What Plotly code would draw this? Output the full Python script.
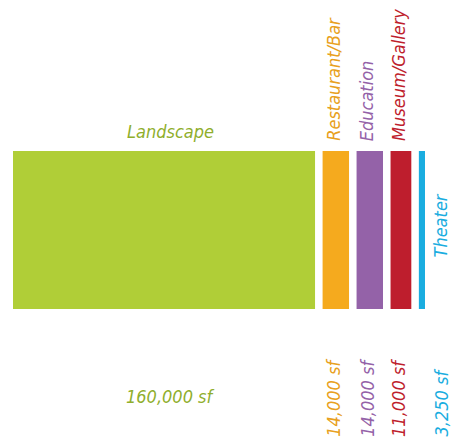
import plotly.graph_objects as go
import numpy as np

categories = ["Landscape", "Restaurant/Bar", "Education", "Museum/Gallery", "Theater"]
values = [160000, 14000, 14000, 11000, 3250]
value_labels = ["160,000 sf", "14,000 sf", "14,000 sf", "11,000 sf", "3,250 sf"]
bar_colors = ["#B0CE37", "#F5AA1E", "#9462A8", "#BE1E2D", "#1AADE0"]
text_colors = ["#8FAE2C", "#E8A020", "#9462A8", "#BE1E2D", "#1AADE0"]

GAP = 4000
vals = np.array(values, dtype=float)
lefts = np.concatenate([[0], np.cumsum(vals[:-1] + GAP)])
centers = lefts + vals / 2
total = lefts[-1] + vals[-1]

FONT = "DejaVu Sans Condensed"
FS = 18

fig = go.Figure()
fig.add_trace(go.Bar(
    x=centers, y=[1] * len(values), width=vals,
    marker=dict(color=bar_colors, line=dict(width=0)),
    hoverinfo="skip", showlegend=False,
))

annotations = []
for i, (cat, lab) in enumerate(zip(categories, value_labels)):
    f = dict(family=FONT, size=FS, color=text_colors[i], style="italic")
    if i == 0:
        annotations.append(dict(x=centers[i], y=1, xref="x", yref="y", text=cat,
                                showarrow=False, font=f, xanchor="center", yanchor="middle",
                                xshift=6, yshift=20))
        annotations.append(dict(x=centers[i], y=0, xref="x", yref="y", text=lab,
                                showarrow=False, font=f, xanchor="center", yanchor="middle",
                                xshift=6, yshift=-87))
    elif cat == "Theater":
        annotations.append(dict(x=lefts[i] + vals[i], y=0.5, xref="x", yref="y", text=cat,
                                showarrow=False, font=f, textangle=-90,
                                xanchor="left", yanchor="middle", xshift=2, yshift=4))
        annotations.append(dict(x=lefts[i] + vals[i], y=0, xref="x", yref="y", text=lab,
                                showarrow=False, font=f, textangle=-90,
                                xanchor="left", yanchor="bottom", xshift=3, yshift=-130))
    else:
        annotations.append(dict(x=centers[i], y=1, xref="x", yref="y", text=cat,
                                showarrow=False, font=f, textangle=-90,
                                xanchor="center", yanchor="bottom", xshift=-3, yshift=8))
        annotations.append(dict(x=centers[i], y=0, xref="x", yref="y", text=lab,
                                showarrow=False, font=f, textangle=-90,
                                xanchor="center", yanchor="bottom", xshift=-3, yshift=-130))

fig.update_layout(
    width=458, height=441,
    margin=dict(l=13, r=33, t=151, b=132, pad=0),
    paper_bgcolor="white", plot_bgcolor="white",
    xaxis=dict(range=[0, total], visible=False, fixedrange=True),
    yaxis=dict(range=[0, 1], visible=False, fixedrange=True),
    annotations=annotations,
)
fig.write_html("out.html")
